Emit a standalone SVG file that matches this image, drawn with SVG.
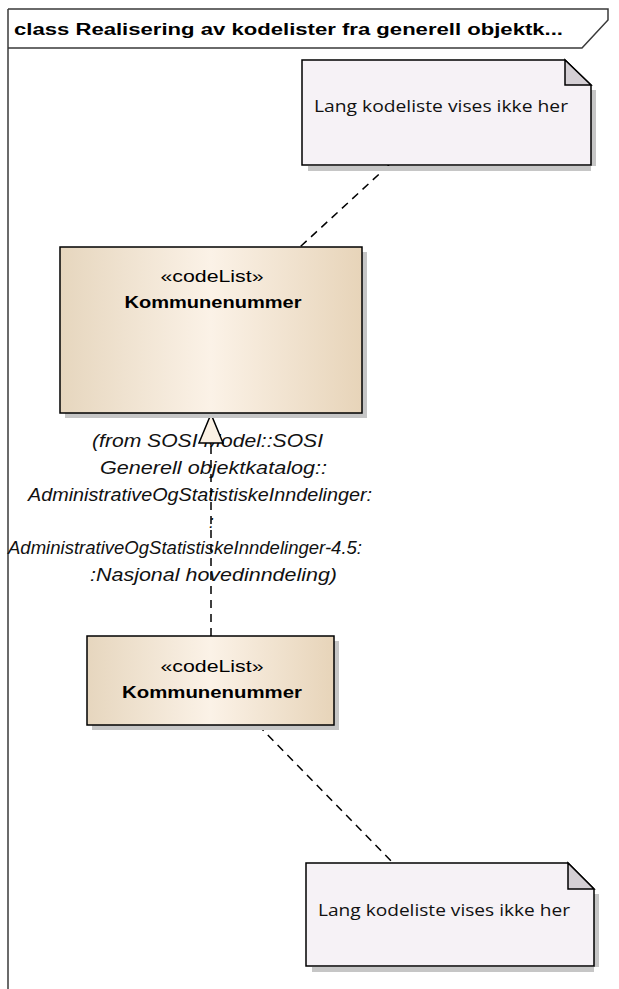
<svg xmlns="http://www.w3.org/2000/svg" width="619" height="989" viewBox="0 0 619 989">
<style>
.frame{fill:none;stroke:#3a3a3a;stroke-width:1.5}
.hdr{font-family:"Liberation Sans",Arial,sans-serif;font-weight:bold;font-size:16px;fill:#000}
.cls{stroke:#000;stroke-width:1.5;fill:url(#clsgrad)}
.shadow{fill:#c6c6c6}
.stereo{font-family:"Liberation Sans",Arial,sans-serif;font-size:17px;fill:#000;text-anchor:middle}
.name{font-family:"Liberation Sans",Arial,sans-serif;font-size:17px;font-weight:bold;fill:#000;text-anchor:middle}
.note{fill:#f6f2f6;stroke:#000;stroke-width:1.5;stroke-linejoin:miter}
.fold{fill:#d4cfd4;stroke:#000;stroke-width:1.5}
.notetxt{font-family:"Open Sans","Noto Sans",sans-serif;font-size:17px;fill:#111}
.conn{fill:none;stroke:#000;stroke-width:1.5;stroke-dasharray:8 6}
.from{font-family:"Liberation Sans",Arial,sans-serif;font-size:17.5px;font-style:italic;fill:#111}
</style>
<defs>
<linearGradient id="clsgrad" x1="0" y1="0" x2="1" y2="0">
<stop offset="0" stop-color="#e6d6be"/>
<stop offset="0.5" stop-color="#fbf2e7"/>
<stop offset="1" stop-color="#e7d4b9"/>
</linearGradient>
</defs>
<rect width="619" height="989" fill="#fff"/>
<g id="frame">
<line class="frame" x1="8" y1="9" x2="8" y2="989"/>
<path class="frame" d="M8 9 H608 V20 L582 48 H8"/>
<text class="hdr" x="14" y="35" textLength="549" lengthAdjust="spacingAndGlyphs">class Realisering av kodelister fra generell objektk...</text>
</g>
<g id="fromlabel">
<text class="from" x="92" y="447" textLength="231" lengthAdjust="spacingAndGlyphs">(from SOSI Model::SOSI</text>
<text class="from" x="100" y="474" textLength="227" lengthAdjust="spacingAndGlyphs">Generell objektkatalog::</text>
<text class="from" x="28" y="501" textLength="344" lengthAdjust="spacingAndGlyphs">AdministrativeOgStatistiskeInndelinger:</text>
<text class="from" x="209" y="528">:</text>
<text class="from" x="8" y="554" textLength="354" lengthAdjust="spacingAndGlyphs">AdministrativeOgStatistiskeInndelinger-4.5:</text>
<text class="from" x="90" y="581" textLength="247" lengthAdjust="spacingAndGlyphs">:Nasjonal hovedinndeling)</text>
</g>
<g id="connectors">
<line class="conn" x1="389" y1="165" x2="300" y2="247"/>
<line class="conn" x1="258" y1="725" x2="393" y2="863"/>
<line class="conn" x1="211" y1="636" x2="211" y2="443"/>
<polygon points="211,414 199,443 223,443" fill="#fbf1e4" stroke="#000" stroke-width="1.5"/>
</g>
<g id="note1">
<path class="shadow" d="M308 166 H596 V90 H591 V171 H308 Z"/>
<path class="note" d="M302 60 H565 L591 85 V165 H302 Z"/>
<path class="fold" d="M565 60 V85 H591 Z"/>
<text class="notetxt" x="314" y="112" textLength="254" lengthAdjust="spacingAndGlyphs">Lang kodeliste vises ikke her</text>
</g>
<g id="class1">
<rect class="shadow" x="65" y="252" width="302" height="166"/>
<rect class="cls" x="60" y="247" width="302" height="166"/>
<text class="stereo" x="212" y="282" textLength="103" lengthAdjust="spacingAndGlyphs">«codeList»</text>
<text class="name" x="213" y="308" textLength="177" lengthAdjust="spacingAndGlyphs">Kommunenummer</text>
</g>
<g id="class2">
<rect class="shadow" x="92" y="641" width="247" height="89"/>
<rect class="cls" x="87" y="636" width="247" height="89"/>
<text class="stereo" x="212" y="672" textLength="103" lengthAdjust="spacingAndGlyphs">«codeList»</text>
<text class="name" x="212" y="698" textLength="180" lengthAdjust="spacingAndGlyphs">Kommunenummer</text>
</g>
<g id="note2">
<path class="shadow" d="M312 967 H599 V894 H594 V972 H312 Z"/>
<path class="note" d="M306 863 H568 L594 889 V966 H306 Z"/>
<path class="fold" d="M568 863 V889 H594 Z"/>
<text class="notetxt" x="318" y="916" textLength="252" lengthAdjust="spacingAndGlyphs">Lang kodeliste vises ikke her</text>
</g>
</svg>
